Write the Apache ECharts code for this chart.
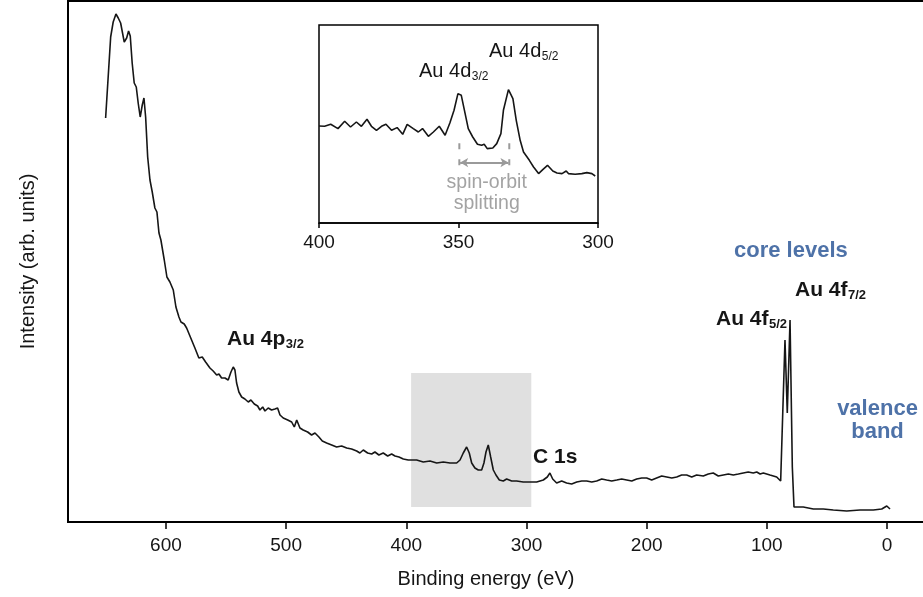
<!DOCTYPE html>
<html>
<head>
<meta charset="utf-8">
<title>Au XPS survey</title>
<script src="https://cdn.jsdelivr.net/npm/echarts@6.0.0/dist/echarts.min.js"></script>
<style>
  html, body { margin: 0; padding: 0; background: #fff; }
  #chart { width: 923px; height: 597px; }
</style>
</head>
<body>
<div id="chart"></div>
<script>
// survey spectrum: [binding energy (eV), intensity (arb.)]
const survey = [
  [650.2, 404], [646.0, 485], [643.9, 500], [641.6, 508], [639.7, 504], [637.7, 499], [634.7, 480],
  [632.7, 484], [631.1, 491], [629.7, 486], [628.1, 459], [626.4, 439], [624.7, 435], [623.1, 419],
  [621.4, 405], [619.7, 417], [618.3, 424], [616.9, 405], [615.2, 365], [613.3, 342], [611.4, 330],
  [609.2, 314], [607.5, 310], [605.8, 289], [604.2, 282], [601.4, 262], [599.2, 245], [596.7, 240],
  [593.9, 232], [591.7, 215], [589.2, 205], [587.5, 200], [584.8, 198], [582.8, 194], [575.9, 174],
  [572.6, 164], [569.8, 165], [567.0, 160], [563.4, 154], [560.7, 151], [557.8, 147], [555.9, 148],
  [553.7, 144], [550.9, 144], [548.2, 142], [545.9, 150], [544.0, 155], [542.6, 152], [541.2, 139],
  [539.3, 130], [537.0, 125], [534.3, 123], [531.5, 120], [529.3, 122], [526.5, 118], [523.7, 116],
  [521.8, 112], [519.5, 115], [517.6, 111], [514.9, 114], [512.1, 112], [509.3, 113], [507.1, 114],
  [505.1, 107], [502.4, 104], [498.7, 102], [495.4, 100], [493.2, 95], [491.2, 102], [488.5, 94],
  [485.8, 92], [482.1, 90], [478.8, 87], [476.0, 89], [472.7, 85], [469.9, 81], [466.3, 79],
  [462.1, 77], [458.0, 75], [453.8, 76], [449.6, 74], [445.5, 73], [441.3, 71], [438.6, 69],
  [435.8, 72], [432.2, 69], [428.8, 68], [426.1, 70], [422.8, 67], [419.2, 69], [415.5, 66],
  [412.2, 68], [409.4, 66], [406.1, 65], [402.5, 63], [398.4, 62], [391.4, 62], [385.9, 60],
  [380.3, 61], [374.7, 59], [369.2, 60], [363.7, 59], [358.1, 59], [355.3, 62], [352.6, 69],
  [349.8, 75], [347.6, 69], [345.6, 59], [342.9, 54], [340.1, 52], [337.3, 52], [335.4, 59],
  [333.7, 70], [331.8, 77], [329.8, 65], [327.6, 52], [325.4, 47], [322.6, 42], [319.3, 41],
  [316.5, 43], [312.3, 41], [308.2, 41], [302.7, 40], [297.1, 40], [291.5, 40], [286.0, 42],
  [282.7, 45], [280.5, 49], [278.2, 43], [274.9, 39], [270.7, 41], [266.6, 39], [262.4, 38],
  [258.2, 40], [254.0, 41], [249.9, 41], [245.7, 40], [241.6, 41], [237.4, 43], [233.3, 42],
  [229.1, 41], [224.9, 42], [220.8, 43], [216.6, 42], [212.4, 41], [208.3, 43], [204.1, 44],
  [200.0, 44], [195.8, 42], [191.7, 44], [187.5, 46], [183.3, 45], [179.1, 44], [175.0, 45],
  [170.9, 47], [166.7, 47], [162.5, 45], [158.4, 47], [152.9, 46], [148.7, 48], [144.6, 49],
  [140.4, 46], [136.2, 47], [132.0, 48], [127.9, 47], [123.7, 48], [119.6, 49], [115.5, 50],
  [111.3, 49], [108.4, 50], [105.6, 48], [102.9, 49], [97.4, 47], [91.8, 45], [88.5, 41],
  [84.9, 182], [83.0, 109], [80.7, 202], [78.8, 55], [77.4, 15], [75.1, 15], [69.7, 15],
  [61.3, 13], [53.0, 13], [44.7, 12], [33.5, 11], [22.5, 12], [11.4, 12], [4.4, 13],
  [0.2, 16], [-2.5, 13]
];

// Au 4d close-up (inset): [binding energy (eV), intensity (arb.)]
const inset = [
  [400.0, 97], [398.0, 96.7], [395.8, 98.7], [393.2, 94.4], [390.8, 101.7], [388.7, 96],
  [386.6, 101], [384.8, 96.7], [382.8, 103.7], [381.2, 96.7], [379.4, 92.7], [377.6, 96.7],
  [376.0, 98.7], [374.0, 92.7], [372.0, 95.4], [370.0, 88.7], [368.4, 98.7], [366.2, 94.4],
  [364.4, 91], [362.9, 94.4], [360.8, 86.7], [359.0, 91], [356.9, 96.7], [354.8, 87.7],
  [353.1, 100], [351.6, 112.7], [350.2, 129.4], [349.0, 127.7], [348.0, 114.4], [346.5, 94.4],
  [344.9, 86], [343.2, 78.7], [341.7, 77.7], [340.8, 78.7], [339.7, 74.4], [337.7, 75],
  [336.3, 79.4], [334.8, 89.4], [333.9, 112.7], [332.1, 133.4], [330.5, 124.4], [329.3, 102.7],
  [327.9, 82.7], [326.7, 71], [324.6, 62.7], [323.1, 56], [321.3, 49.4], [319.8, 53.4],
  [318.1, 57.7], [316.2, 52], [314.7, 50], [312.9, 49.4], [311.4, 52], [310.6, 49.4],
  [308.2, 48.7], [305.8, 49.4], [304.0, 50.4], [302.2, 49.4], [301.0, 47]
];

const mainTicks = [600, 500, 400, 300, 200, 100, 0];
const highlightEnergy = [396, 296];     // gray box behind the 4d peaks
const highlightIntensity = [15, 149];
const splitEnergy = [349.7, 331.8];     // spin-orbit markers
const splitIntensity = [57.7, 79.7];
const arrowIntensity = 60.4;

const fontFamily = '"Liberation Sans", Arial, Helvetica, sans-serif';
const ink = '#161616';
const blue = '#4e72a8';
const gray = '#a3a3a3';

const measure = document.createElement('canvas').getContext('2d');
function textWidth(str, font) {
  measure.font = font;
  return measure.measureText(str).width;
}

// text with optional subscript; x = left edge (or centre), baseline in px
function tag(x, baseline, main, sub, opt) {
  opt = opt || {};
  const size = opt.size || 21;
  const subSize = opt.subSize || 13;
  const weight = opt.bold === false ? 'normal' : 'bold';
  const fill = opt.color || ink;
  const font = weight + ' ' + size + 'px ' + fontFamily;
  const subFont = weight + ' ' + subSize + 'px ' + fontFamily;
  let left = x;
  if (opt.center) left = x - textWidth(main, font) / 2;
  const out = [{
    type: 'text', x: left, y: baseline - size * 0.36,
    style: { text: main, font: font, fill: fill, verticalAlign: 'middle', align: 'left' }
  }];
  if (sub) {
    out.push({
      type: 'text', x: left + textWidth(main, font) + 0.5, y: baseline + 2.5 - subSize * 0.36,
      style: { text: sub, font: subFont, fill: fill, verticalAlign: 'middle', align: 'left' }
    });
  }
  return out;
}

const labels = [].concat(
  tag(227, 347, 'Au 4p', '3/2'),
  tag(449, 396, 'Au 4d', '5/2'),
  tag(419, 429, 'Au 4d', '3/2'),
  tag(533, 465, 'C 1s'),
  tag(795, 298, 'Au 4f', '7/2'),
  tag(716, 327, 'Au 4f', '5/2'),
  tag(734, 259, 'core levels', null, { color: blue, size: 22 }),
  tag(877.5, 417, 'valence', null, { color: blue, size: 22, center: true }),
  tag(877.5, 440, 'band', null, { color: blue, size: 22, center: true }),
  tag(419, 79, 'Au 4d', '3/2', { bold: false, size: 20, subSize: 12 }),
  tag(489, 59, 'Au 4d', '5/2', { bold: false, size: 20, subSize: 12 }),
  tag(486.7, 190, 'spin-orbit', null, { bold: false, size: 19.5, color: gray, center: true }),
  tag(486.7, 211, 'splitting', null, { bold: false, size: 19.5, color: gray, center: true })
);

const chart = echarts.init(document.getElementById('chart'), null, { renderer: 'canvas' });

chart.setOption({
  animation: false,
  backgroundColor: '#fff',
  textStyle: { fontFamily: fontFamily },
  grid: [
    { left: 68, top: 1, width: 860, height: 521, show: true, borderColor: '#000', borderWidth: 2,
      outerBoundsMode: 'none', containLabel: false },
    { left: 319, top: 25, width: 279, height: 198, show: true, borderColor: '#000', borderWidth: 1.5,
      backgroundColor: '#fff', outerBoundsMode: 'none', containLabel: false }
  ],
  xAxis: [
    {
      type: 'value', gridIndex: 0, inverse: true, min: -34.1, max: 681.5,
      axisLine: { show: true, onZero: false, lineStyle: { color: '#000', width: 2 } },
      axisTick: { show: true, customValues: mainTicks, length: 7, lineStyle: { color: '#000', width: 1.5 } },
      axisLabel: { customValues: mainTicks, fontSize: 19, color: ink, margin: 14 },
      splitLine: { show: false },
      name: 'Binding energy (eV)', nameLocation: 'middle', nameGap: 47,
      nameTextStyle: { fontSize: 20, color: ink, padding: [0, 24, 0, 0] }
    },
    {
      type: 'value', gridIndex: 1, inverse: true, min: 300, max: 400, interval: 50,
      axisLine: { show: true, onZero: false, lineStyle: { color: '#000', width: 1.5 } },
      axisTick: { show: true, length: 5, lineStyle: { color: '#000', width: 1.5 } },
      axisLabel: { fontSize: 19, color: ink, margin: 10 },
      splitLine: { show: false }
    }
  ],
  yAxis: [
    {
      type: 'value', gridIndex: 0, min: 0, max: 521,
      axisLine: { show: false }, axisTick: { show: false }, axisLabel: { show: false },
      splitLine: { show: false },
      name: 'Intensity (arb. units)', nameLocation: 'middle', nameGap: 30,
      nameTextStyle: { fontSize: 20, color: ink }
    },
    {
      type: 'value', gridIndex: 1, min: 0, max: 198,
      axisLine: { show: false }, axisTick: { show: false }, axisLabel: { show: false },
      splitLine: { show: false }
    }
  ],
  series: [
    {
      type: 'line', xAxisIndex: 0, yAxisIndex: 0, data: survey,
      showSymbol: false, silent: true,
      lineStyle: { color: ink, width: 1.6 },
      markArea: {
        silent: true,
        itemStyle: { color: '#e0e0e0' },
        data: [[
          { xAxis: highlightEnergy[0], yAxis: highlightIntensity[0] },
          { xAxis: highlightEnergy[1], yAxis: highlightIntensity[1] }
        ]]
      },
      z: 3
    },
    {
      type: 'line', xAxisIndex: 1, yAxisIndex: 1, data: inset,
      showSymbol: false, silent: true,
      lineStyle: { color: ink, width: 1.6 }
    },
    {
      type: 'line', xAxisIndex: 1, yAxisIndex: 1, showSymbol: false, silent: true,
      data: [[splitEnergy[0], splitIntensity[0]], [splitEnergy[0], splitIntensity[1]]],
      lineStyle: { color: '#9a9a9a', width: 2, type: [6, 10] }
    },
    {
      type: 'line', xAxisIndex: 1, yAxisIndex: 1, showSymbol: false, silent: true,
      data: [[splitEnergy[1], splitIntensity[0]], [splitEnergy[1], splitIntensity[1]]],
      lineStyle: { color: '#9a9a9a', width: 2, type: [6, 10] },
      markLine: {
        silent: true, symbol: ['arrow', 'arrow'], symbolSize: [7, 8],
        label: { show: false },
        lineStyle: { color: '#9a9a9a', width: 2, type: 'solid' },
        data: [[
          { coord: [splitEnergy[0] - 0.3, arrowIntensity] },
          { coord: [splitEnergy[1] + 0.3, arrowIntensity] }
        ]]
      }
    }
  ],
  graphic: labels
});
</script>
</body>
</html>
